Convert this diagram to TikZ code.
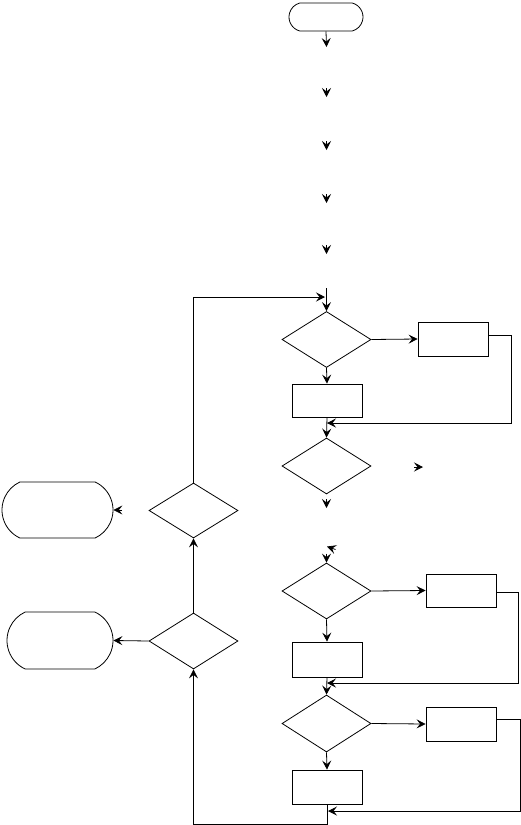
\documentclass[tikz,border=0pt]{standalone}
\usetikzlibrary{arrows.meta,shapes.geometric,shapes.misc}
\begin{document}
\begin{tikzpicture}[x=1pt,y=-1pt,line width=0.8pt,
  arr/.style={-{Stealth[length=9pt,width=9pt,inset=3.5pt]}},
  termbox/.style={draw,rounded rectangle,rounded rectangle arc length=130,inner sep=0pt,minimum width=#1},
  decbox/.style={draw,diamond,inner sep=0pt,minimum width=89pt,minimum height=56pt},
  procbox/.style={draw,rectangle,inner sep=0pt,minimum width=70pt,minimum height=34pt}]
\useasboundingbox (0,0) rectangle (521,825);
% nodes
\node[termbox=74pt,minimum height=28pt,rounded rectangle arc length=150] (start) at (326,17) {};
\node[decbox] (d1) at (326.5,339.5) {};
\node[procbox] (r1) at (453,339) {};
\node[procbox,minimum height=33pt] (r2) at (327,400.5) {};
\node[decbox] (d2) at (326.5,466) {};
\node[decbox,minimum height=55pt] (d3) at (193.5,510.5) {};
\node[termbox=111pt,minimum height=56pt] (t1) at (57.5,510) {};
\node[decbox] (d5) at (326.5,591) {};
\node[procbox,minimum height=33pt] (r3) at (461,590.5) {};
\node[procbox,minimum height=35pt] (r4) at (327,659.5) {};
\node[decbox] (d4) at (193.5,641) {};
\node[termbox=106pt,minimum height=57pt] (t2) at (60,640.5) {};
\node[decbox,minimum height=57pt] (d6) at (326.5,723.5) {};
\node[procbox] (r5) at (461,724) {};
\node[procbox] (r6) at (327,787) {};
% coordinates
\coordinate (a0) at (326.5,47);
\foreach \i/\y in {1/97,2/150,3/203,4/254} {
  \coordinate (s\i a) at (326.5,\y-9);
  \coordinate (s\i b) at (326.5,\y);
}
\coordinate (m0) at (326.5,288);
\coordinate (j0) at (193.5,297);
\coordinate (j1) at (325,297);
\coordinate (k1) at (511,335);
\coordinate (k2) at (511,423);
\coordinate (k3) at (327,423);
\coordinate (q1a) at (414,467);
\coordinate (q1b) at (423,467);
\coordinate (q2a) at (326.5,499);
\coordinate (q2b) at (326.5,508);
\coordinate (q3a) at (335.5,549.5);
\coordinate (q3b) at (327,546.5);
\coordinate (q4) at (326.5,553.5);
\coordinate (q5) at (122,510);
\coordinate (n1) at (518,592);
\coordinate (n2) at (518,683);
\coordinate (n3) at (327,683);
\coordinate (p1) at (520,719);
\coordinate (p2) at (520,811);
\coordinate (p3) at (328,811);
\coordinate (b1) at (327,824);
\coordinate (b2) at (193.5,824);
% connectors
\draw[arr] (start.south) -- (a0);
\foreach \i in {1,...,4} \draw[arr] (s\i a) -- (s\i b);
\draw[arr] (m0) -- (d1.north);
\draw[arr] (d3.north) -- (j0) -- (j1);
\draw[arr] (d1.east) -- (r1.west);
\draw[arr] (r1.east |- k1) -- (k1) -- (k2) -- (k3);
\draw[arr] (d1.south) -- (r2.north);
\draw[arr] (r2.south) -- (d2.north);
\draw[arr] (q1a) -- (q1b);
\draw[arr] (q2a) -- (q2b);
\draw[arr] (q3a) -- (q3b);
\draw[arr] (q4) -- (d5.north);
\draw[arr] (q5) -- (t1.east);
\draw[arr] (d4.north) -- (d3.south);
\draw[arr] (d4.west) -- (t2.east);
\draw[arr] (d5.east) -- (r3.west);
\draw[arr] (r3.east |- n1) -- (n1) -- (n2) -- (n3);
\draw[arr] (d5.south) -- (r4.north);
\draw[arr] (r4.south) -- (d6.north);
\draw[arr] (d6.east) -- (r5.west);
\draw[arr] (r5.east |- p1) -- (p1) -- (p2) -- (p3);
\draw[arr] (d6.south) -- (r6.north);
\draw[arr] (r6.south) -- (b1) -- (b2) -- (d4.south);
\end{tikzpicture}
\end{document}
